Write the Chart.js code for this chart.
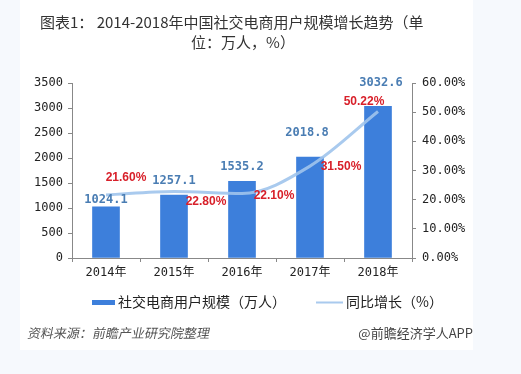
<!DOCTYPE html>
<html><head><meta charset="utf-8">
<script src="https://cdn.jsdelivr.net/npm/chart.js@4/dist/chart.umd.min.js"></script>
<style>
html,body{margin:0;padding:0;background:#f6f9fd;}
#wrap{position:relative;width:521px;height:374px;}
canvas{display:block;}
</style></head><body>
<div id="wrap"><canvas id="c" width="521" height="374"></canvas></div>
<script>
const categories = ['2014年','2015年','2016年','2017年','2018年'];
const users = [1024.1, 1257.1, 1535.2, 2018.8, 3032.6];
const growth = [21.60, 22.80, 22.10, 31.50, 50.22];
const userLabels = ['1024.1','1257.1','1535.2','2018.8','3032.6'];
const growthLabels = ['21.60%','22.80%','22.10%','31.50%','50.22%'];
const titleLines = ['图表1： 2014-2018年中国社交电商用户规模增长趋势（单','位：万人，%）'];
const legendNames = ['社交电商用户规模（万人）','同比增长（%）'];
const sourceText = '资料来源：前瞻产业研究院整理';
const creditText = '@前瞻经济学人APP';

// label placement offsets (style, not data)
const barLabelOffset = [[0,-7],[0,-14],[0,-14],[-3,-24],[3,-23]];
const lineLabelOffset = [[20,-17],[32,10],[32,2],[31,1],[-14,-10]];

const BAR = '#3d7fdb', LINE = 'rgba(160,196,236,0.9)';
const MONO = '"DejaVu Sans Mono","Noto Sans CJK SC",monospace';

const decor = {
  id:'decor',
  beforeDraw(chart){
    const ctx = chart.ctx;
    ctx.save();
    ctx.fillStyle = '#f6f9fd';
    ctx.fillRect(0,0,chart.width,chart.height);
    ctx.fillStyle = '#ffffff';
    ctx.fillRect(20,0,453,350);
    ctx.fillStyle = '#333';
    ctx.font = '15px "Noto Sans CJK SC", sans-serif';
    ctx.textBaseline='middle';
    ctx.textAlign='left';
    ctx.fillText(titleLines[0], 40, 22);
    ctx.textAlign='center';
    ctx.fillText(titleLines[1], 243, 42);
    ctx.restore();
  },
  afterDraw(chart){
    const ctx = chart.ctx;
    ctx.save();
    const lm = chart.getDatasetMeta(0), bm = chart.getDatasetMeta(1);
    ctx.textAlign='center'; ctx.textBaseline='middle';
    ctx.font = 'bold 12px ' + MONO;
    ctx.fillStyle = '#4a7db3';
    bm.data.forEach((el,i)=>{
      ctx.fillText(userLabels[i], el.x + barLabelOffset[i][0], el.y + barLabelOffset[i][1]);
    });
    ctx.font = 'bold 12px "Liberation Sans", Arial, sans-serif';
    ctx.fillStyle = '#d8202a';
    lm.data.forEach((el,i)=>{
      ctx.fillText(growthLabels[i], el.x + lineLabelOffset[i][0], el.y + lineLabelOffset[i][1]);
    });
    // legend
    ctx.fillStyle = BAR;
    ctx.fillRect(92, 300, 23, 5);
    ctx.strokeStyle = LINE; ctx.lineWidth = 2;
    ctx.beginPath(); ctx.moveTo(316,302.5); ctx.lineTo(343,302.5); ctx.stroke();
    ctx.fillStyle = '#222';
    ctx.font = '14px "Noto Sans CJK SC", sans-serif';
    ctx.textAlign='left'; ctx.textBaseline='middle';
    ctx.fillText(legendNames[0], 118, 302);
    ctx.fillText(legendNames[1], 346, 302);
    // footer
    ctx.fillStyle = '#555';
    ctx.font = '13px "Noto Sans CJK SC", sans-serif';
    ctx.save();
    ctx.translate(28,333);
    ctx.transform(1,0,-0.2,1,0,0);
    ctx.fillText(sourceText, 0, 0);
    ctx.restore();
    ctx.textAlign='right';
    ctx.fillStyle = '#444';
    ctx.fillText(creditText, 473, 333);
    ctx.restore();
  }
};

new Chart(document.getElementById('c'), {
  data: {
    labels: categories,
    datasets: [
      { type:'line', label: legendNames[1], data: growth, yAxisID:'y1',
        borderColor: LINE, borderWidth: 3, pointRadius: 0, tension: 0.35,
        cubicInterpolationMode:'monotone', fill:false, order:0 },
      { type:'bar', label: legendNames[0], data: users, yAxisID:'y',
        backgroundColor: BAR, barThickness: 27, order:1 }
    ]
  },
  options: {
    responsive:false, animation:false, devicePixelRatio:1,
    layout:{ padding:{ top:83, left:0, right:0, bottom:0 } },
    plugins:{ legend:{display:false}, title:{display:false}, tooltip:{enabled:false} },
    scales:{
      x:{
        grid:{ display:true, drawOnChartArea:false, drawTicks:true, tickLength:4, color:'#888', offset:true },
        border:{ color:'#888' },
        ticks:{ color:'#222', font:{ family: MONO, size:12 }, padding:4 },
        afterFit(s){ s.height = 116; }
      },
      y:{
        position:'left', min:0, max:3500,
        grid:{ display:true, drawOnChartArea:false, drawTicks:true, tickLength:4, color:'#888' },
        border:{ color:'#888' },
        ticks:{ stepSize:500, color:'#222', font:{ family: MONO, size:12 }, padding:5,
          callback:(v)=> String(v) },
        afterFit(s){ s.width = 72; }
      },
      y1:{
        position:'right', min:0, max:60,
        grid:{ display:true, drawOnChartArea:false, drawTicks:true, tickLength:4, color:'#888' },
        border:{ color:'#888' },
        ticks:{ stepSize:10, color:'#222', font:{ family: MONO, size:12 }, padding:6,
          callback:(v)=> v.toFixed(2)+'%' },
        afterFit(s){ s.width = 109; }
      }
    }
  },
  plugins:[decor]
});
</script>
</body></html>
